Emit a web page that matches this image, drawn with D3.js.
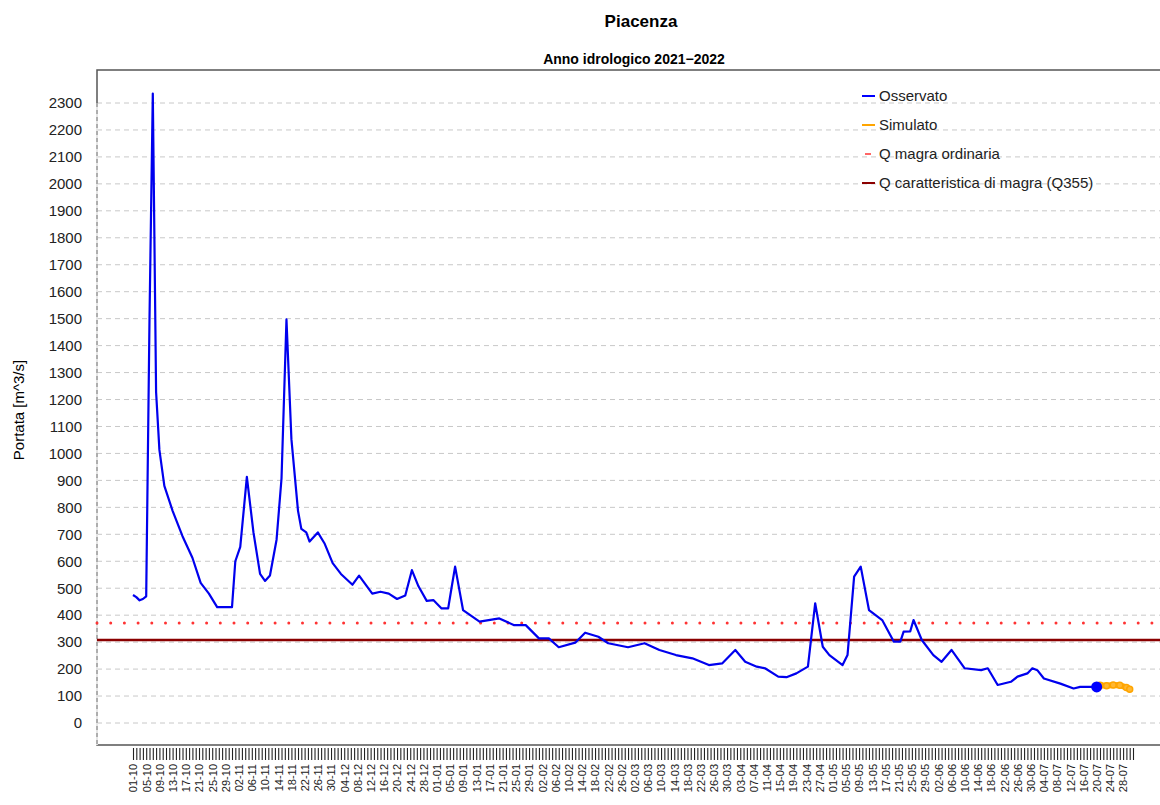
<!DOCTYPE html>
<html><head><meta charset="utf-8">
<script src="https://cdn.jsdelivr.net/npm/d3@7"></script>
<style>body{margin:0;background:#fff}text{font-family:Arial,"Liberation Sans",sans-serif}</style>
</head><body><svg id="c" width="1160" height="805"></svg>
<script>
// day index from 01-10-2021
const obsDays = [0,1,2,3,4,5,6,7,8,9.5,12,15,18,20.5,23,25.5,28,30,31,32.5,34.5,36.5,38.5,40,41.5,43.5,45,46.5,48,50,51,52.5,53.5,56,58,60.5,63,66.5,68.5,72.5,75,77.5,80,82.5,84.5,86.5,89,91,93.5,95.5,96.5,97.6,100,105,111,115.5,119,123,126,129,134,137,141,144,150,155,159.5,164.5,169.5,174.5,178.5,182.5,185.5,189,191.5,195.5,198,201,204.5,206.7,209,211,215,216.5,218.5,220.5,223,227,230.5,232.5,233.5,235.5,236.5,239,242.5,245,248,252,257,259,262,266,268,271,272.5,274,276,281,285,287,292];
const obsVals = [475,467,455,460,470,1500,2335,1227,1013,880,787,693,613,520,480,430,430,430,600,653,913,707,553,527,547,680,907,1497,1053,787,720,707,673,707,667,593,553,513,547,480,487,480,460,473,567,507,453,456,425,425,500,580,419,376,388,363,363,314,314,281,298,335,320,296,281,296,271,252,240,215,221,271,227,209,203,172,170,184,209,444,283,252,215,252,543,580,419,382,302,302,339,340,382,308,252,227,271,203,196,203,141,153,172,184,203,196,165,146,128,134,134];
const simDays = [292,293,295,297,299,301,302];
const simVals = [134,140,138,141,140,132,125];
const qMagraOrd = 371;
const q355 = 308;
const yTicks = d3.range(0,2301,100);
const nDays = 304;
const start = new Date(2021,9,1);
const legendItems = [["Osservato","#0000ff","solid"],["Simulato","#ffa500","solid"],["Q magra ordinaria","#ff3333","dot"],["Q caratteristica di magra (Q355)","#8b0000","solid"]];

const svg = d3.select("#c");
const x = d3.scaleLinear().domain([0,303]).range([133,1133]);
const y = d3.scaleLinear().domain([0,2300]).range([723,103]);

svg.append("text").attr("x",641).attr("y",27).attr("text-anchor","middle").attr("font-weight","bold").attr("font-size",17).text("Piacenza");
svg.append("text").attr("x",634).attr("y",64).attr("text-anchor","middle").attr("font-weight","bold").attr("font-size",14).text("Anno idrologico 2021\u22122022");
svg.append("text").attr("transform","translate(24,410) rotate(-90)").attr("text-anchor","middle").attr("font-size",15).text("Portata [m^3/s]");

svg.selectAll(".g").data(yTicks).join("line").attr("x1",97).attr("x2",1160).attr("y1",d=>y(d)).attr("y2",d=>y(d)).attr("stroke","#c8c8c8").attr("stroke-dasharray","5,4");
svg.append("path").attr("d","M1160,70 H97 V745 H1160").attr("fill","none").attr("stroke","#555").attr("stroke-width",1.5);
svg.append("line").attr("x1",97).attr("x2",97).attr("y1",103).attr("y2",745).attr("stroke","#fff").attr("stroke-width",1.6);
svg.append("line").attr("x1",97).attr("x2",97).attr("y1",103).attr("y2",745).attr("stroke","#777").attr("stroke-dasharray","4,3");
const ya = svg.append("g").attr("transform","translate(85,0)").call(d3.axisLeft(y).tickValues(yTicks).tickSize(0).tickFormat(d3.format("d")));
ya.select(".domain").remove();
ya.selectAll("text").attr("font-size",15).attr("fill","#222").attr("font-family","Arial,'Liberation Sans',sans-serif");

const days = d3.range(nDays);
const fmt = d3.timeFormat("%d-%m");
const xa = svg.append("g").attr("transform","translate(0,748)").call(d3.axisBottom(x).tickValues(days).tickSize(12).tickFormat(d=> d%4===0 ? fmt(d3.timeDay.offset(start,d)) : ""));
xa.select(".domain").remove();
xa.selectAll(".tick line").attr("stroke","#222").attr("stroke-width",1.1);
xa.selectAll("text").attr("font-size",11).attr("fill","#222").attr("font-family","Arial,'Liberation Sans',sans-serif")
  .attr("transform","rotate(-90)").attr("text-anchor","end").attr("x",-16).attr("y",0).attr("dy","0.35em");

svg.append("line").attr("x1",97).attr("x2",1160).attr("y1",y(qMagraOrd)).attr("y2",y(qMagraOrd)).attr("stroke","#ff3333").attr("stroke-width",3).attr("stroke-dasharray","0,13.7").attr("stroke-linecap","round");
svg.append("line").attr("x1",97).attr("x2",1160).attr("y1",y(q355)).attr("y2",y(q355)).attr("stroke","#8b0000").attr("stroke-width",2.5);

const line = d3.line().x(d=>x(d[0])).y(d=>y(d[1]));
const sim = simDays.map((d,i)=>[d,simVals[i]]);
svg.append("path").attr("d",line(sim)).attr("fill","none").attr("stroke","#ffa500").attr("stroke-width",6).attr("stroke-linejoin","round").attr("stroke-linecap","round");
svg.selectAll(".sp").data(sim.slice(1)).join("circle").attr("cx",d=>x(d[0])).attr("cy",d=>y(d[1])).attr("r",3).attr("fill","#ffb733").attr("stroke","#ffa500").attr("stroke-width",1.5);
const obs = obsDays.map((d,i)=>[d,obsVals[i]]);
svg.append("path").attr("d",line(obs)).attr("fill","none").attr("stroke","#0000ee").attr("stroke-width",2.2).attr("stroke-linejoin","round");
const last = obs[obs.length-1];
svg.append("circle").attr("cx",x(last[0])).attr("cy",y(last[1])).attr("r",5.5).attr("fill","#0000ff");

const lg = svg.append("g");
legendItems.forEach((it,i)=>{
  const yy = 96 + i*29;
  if(it[2]==="dot") lg.append("line").attr("x1",865).attr("x2",871).attr("y1",yy).attr("y2",yy).attr("stroke",it[1]).attr("stroke-width",1.5);
  else lg.append("line").attr("x1",862).attr("x2",875).attr("y1",yy).attr("y2",yy).attr("stroke",it[1]).attr("stroke-width",2);
  lg.append("text").attr("x",879).attr("y",yy+5).attr("font-size",15).attr("fill","#222").text(it[0]);
});
</script></body></html>
